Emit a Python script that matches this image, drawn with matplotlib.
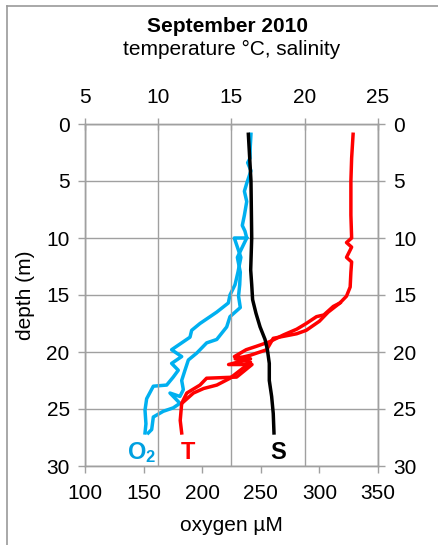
import matplotlib
matplotlib.use("Agg")
import matplotlib.pyplot as plt
from matplotlib.lines import Line2D

plt.rcParams['font.family'] = ['Liberation Sans', 'DejaVu Sans']
plt.rcParams['mathtext.fontset'] = 'custom'
plt.rcParams['mathtext.bf'] = 'Liberation Sans:bold'
plt.rcParams['mathtext.rm'] = 'Liberation Sans'

# ----------------------------------------------------------------------
# data (depth in m)
# ----------------------------------------------------------------------

# temperature, first cast (deg C)
temp_a_depth = [0.9, 3.0, 5.0, 8.0, 10.0, 10.4, 10.8, 11.7, 12.1, 13.0, 14.3, 15.1, 15.7,
                16.0, 16.75, 16.9, 17.5, 18.0, 18.5, 19.1, 19.5, 19.8, 20.4, 20.6, 21.1,
                21.1, 22.2, 22.3, 22.9, 23.6, 24.5, 26.0, 27.1]
temp_a = [23.3, 23.2, 23.15, 23.15, 23.2, 22.85, 23.2, 22.85, 23.2, 23.15, 23.1, 22.85, 22.4,
          21.95, 21.3, 20.8, 20.1, 19.45, 18.55, 17.6, 16.7, 16.0, 15.2, 16.3, 14.8,
          16.4, 15.35, 13.3, 12.85, 11.95, 11.6, 11.5, 11.6]

# temperature, second cast
temp_b_depth = [15.7, 16.5, 17.3, 18.1, 18.4, 18.8, 19.8, 20.3, 20.6, 20.9, 21.6, 22.3,
                22.9, 23.2, 23.6, 24.4]
temp_b = [22.4, 21.6, 21.0, 20.1, 19.45, 17.85, 17.4, 16.25, 15.25, 16.3, 15.6, 14.9,
          14.0, 13.1, 12.4, 11.7]

# salinity
sal_depth = [0.9, 5.0, 10.0, 12.8, 14.1, 15.4, 16.6, 17.8, 18.9, 19.8, 21.0, 22.5, 23.9,
             25.4, 27.1]
salinity = [16.15, 16.33, 16.38, 16.31, 16.38, 16.44, 16.67, 16.95, 17.29, 17.45, 17.58,
            17.58, 17.74, 17.85, 17.9]

# oxygen (uM), left branch
o2_a_depth = [0.9, 2.0, 3.0, 3.4, 4.1, 5.2, 5.9, 6.8, 8.0, 8.9, 9.4, 10.0, 10.0, 11.7,
              13.0, 14.1, 15.0, 15.7, 16.5, 16.9, 17.5, 18.1, 18.7, 19.1, 19.8, 20.4,
              21.0, 21.6, 22.2, 22.9, 23.0, 24.1, 25.1, 26.3, 27.1]
o2_a = [241.6, 241.0, 240.8, 238.8, 241.6, 238.0, 236.0, 238.0, 236.0, 234.2, 236.5, 238.0,
        227.4, 233.0, 230.5, 228.0, 223.7, 222.3, 212.4, 206.7, 198.1, 191.0, 189.6, 183.9,
        173.9, 182.5, 173.9, 179.6, 175.3, 169.7, 158.3, 152.6, 151.2, 152.0, 151.2]

# oxygen, right branch
o2_b_depth = [10.0, 11.7, 13.0, 14.1, 15.1, 16.1, 16.9, 17.8, 18.9, 19.2, 20.1, 20.7,
              21.6, 22.5, 23.3, 23.9, 23.6, 24.5, 24.9, 25.2, 25.7, 26.8, 27.1]
o2_b = [238.0, 230.0, 232.5, 232.0, 231.0, 232.5, 223.7, 220.9, 212.4, 203.8, 195.3, 188.2,
        185.3, 182.5, 183.9, 181.0, 172.5, 181.0, 175.3, 166.8, 158.3, 156.9, 154.0]

O2_TICKS = [100, 150, 200, 250, 300, 350]
TS_TICKS = [5, 10, 15, 20, 25]
DEPTH_TICKS = [0, 5, 10, 15, 20, 25, 30]

BLUE = "#00b0f0"
RED = "#ff0000"
GRID = "#a0a0a0"
FS = 15

# ----------------------------------------------------------------------
# figure
# ----------------------------------------------------------------------

fig = plt.figure(figsize=(4.39, 5.45), dpi=100)
ax = fig.add_axes([85 / 439, 79 / 545, 293 / 439, 342 / 545])
ax2 = ax.twiny()

# frame lines of the original chart box (top and left only)
fig.add_artist(Line2D([7 / 439, 1.0], [1 - 6 / 545, 1 - 6 / 545], color="#9a9a9a", lw=1.2))
fig.add_artist(Line2D([7 / 439, 7 / 439], [0.0, 1 - 6 / 545], color="#9a9a9a", lw=1.2))

lw = 2.5
ax.plot(o2_a, o2_a_depth, color=BLUE, lw=lw, zorder=3)
ax.plot(o2_b, o2_b_depth, color=BLUE, lw=lw, zorder=3)
ax2.plot(temp_a, temp_a_depth, color=RED, lw=lw, zorder=3)
ax2.plot(temp_b, temp_b_depth, color=RED, lw=lw, zorder=3)
ax2.plot(salinity, sal_depth, color="black", lw=lw, zorder=4)

ax.set_xlim(100, 350)
ax.set_ylim(30, 0)
ax2.set_xlim(5, 25)

ax.set_xticks(O2_TICKS)
ax.set_yticks(DEPTH_TICKS)
ax2.set_xticks(TS_TICKS)

ax.yaxis.grid(True, color=GRID, lw=1)
ax2.xaxis.grid(True, color=GRID, lw=1)
ax.set_axisbelow(True)
ax2.set_axisbelow(True)

for a in (ax, ax2):
    for sp in a.spines.values():
        sp.set_color(GRID)
        sp.set_linewidth(1)

ax.tick_params(axis="x", direction="out", length=5, width=1, color=GRID, pad=8, labelsize=FS)
ax.tick_params(axis="y", direction="out", length=5, width=1, color=GRID, pad=6, labelsize=FS,
               right=True, labelright=True)
ax2.tick_params(axis="x", direction="inout", length=8, width=1, color=GRID, pad=8, labelsize=FS)

ax.set_xlabel("oxygen µM", fontsize=FS, labelpad=9)
ax.set_ylabel("depth (m)", fontsize=FS, labelpad=8)
ax2.set_xlabel("temperature °C, salinity", fontsize=FS, labelpad=24)
fig.text(0.518, 1 - 26 / 545, "September 2010", ha="center", va="center",
         fontsize=FS, fontweight="bold")

# series labels
ax.text(148.5, 28.8, r"$\mathbf{O_2}$", color="#00a0e0", fontsize=17, ha="center", va="center")
ax2.text(12.0, 28.8, "T", color=RED, fontsize=17, fontweight="bold", ha="center", va="center")
ax2.text(18.2, 28.8, "S", color="black", fontsize=17, fontweight="bold", ha="center", va="center")

fig.savefig("out.png", dpi=100)
